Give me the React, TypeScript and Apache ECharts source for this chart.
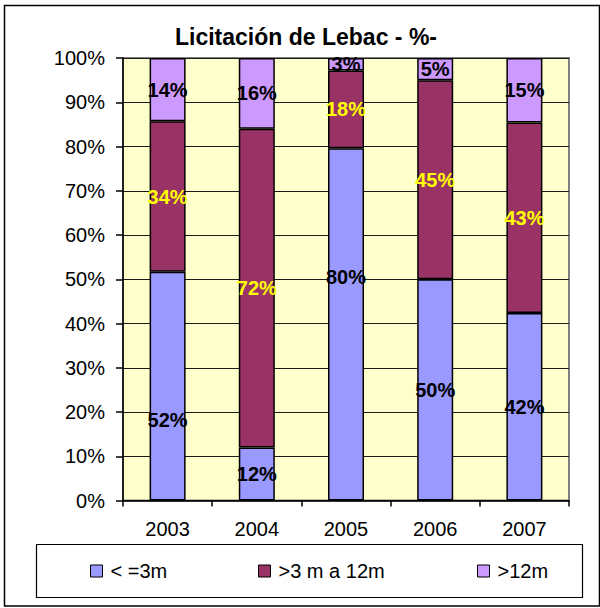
import React, { useEffect, useRef } from "react";
import * as echarts from "echarts";

const categories = ["2003", "2004", "2005", "2006", "2007"];
const seriesNames = ["< =3m", ">3 m a 12m", ">12m"];
const shortTerm = [51.7, 12.0, 79.6, 50.0, 42.4];
const midTerm = [34.0, 72.0, 17.6, 45.0, 43.0];
const longTerm = [14.3, 16.0, 2.8, 5.0, 14.6];
const yTicks = [0, 10, 20, 30, 40, 50, 60, 70, 80, 90, 100];

const FONT = "'Liberation Sans', Arial, sans-serif";
const colors = ["#9999FF", "#993366", "#CC99FF"];
const labelColors = ["#000000", "#FFFF00", "#000000"];
// label nudges (pixels) for the first series, copied from the reference layout
const firstLabelShift = [34, 0, -47, 0, 0];

export default function App() {
  const ref = useRef<HTMLDivElement>(null);
  useEffect(() => {
    if (!ref.current) return;
    const chart = echarts.init(ref.current, undefined, { renderer: "svg" });
    const all = [shortTerm, midTerm, longTerm];
    const series = all.map((vals, si) => ({
      name: seriesNames[si],
      type: "bar",
      stack: "total",
      barWidth: 36,
      itemStyle: { color: colors[si], borderColor: "#000", borderWidth: 1.5 },
      label: {
        show: true,
        position: "inside",
        fontFamily: FONT,
        fontSize: 20,
        fontWeight: "bold",
        color: labelColors[si],
        formatter: (p: any) => Math.round(p.value) + "%",
      },
      data: vals.map((v, i) =>
        si === 0 && firstLabelShift[i] !== 0
          ? { value: v, label: { offset: [0, firstLabelShift[i]] } }
          : v
      ),
    }));
    const legendLefts = [85, 253, 472];
    chart.setOption({
      animation: false,
      backgroundColor: "#ffffff",
      grid: {
        left: 123,
        top: 58,
        width: 446,
        height: 442.5,
        show: true,
        backgroundColor: "#FFFFCC",
        borderColor: "#808080",
        borderWidth: 2,
      },
      xAxis: {
        type: "category",
        data: categories,
        axisLine: { lineStyle: { color: "#000", width: 1.5 } },
        axisTick: { show: true, length: 6, lineStyle: { color: "#000", width: 1.5 } },
        axisLabel: { fontFamily: FONT, fontSize: 20, color: "#000", margin: 18 },
      },
      yAxis: {
        type: "value",
        min: yTicks[0],
        max: yTicks[yTicks.length - 1],
        interval: 10,
        axisLine: { show: true, lineStyle: { color: "#000", width: 1.5 } },
        axisTick: { show: true, length: 7, lineStyle: { color: "#000", width: 1.5 } },
        axisLabel: {
          fontFamily: FONT,
          fontSize: 20,
          color: "#000",
          margin: 18,
          formatter: "{value}%",
        },
        splitLine: { show: true, lineStyle: { color: "#1a1a1a", width: 1 } },
      },
      legend: seriesNames.map((n, i) => ({
        data: [n],
        left: legendLefts[i],
        top: 556,
        itemWidth: 12,
        itemHeight: 12,
        icon: "rect",
        selectedMode: false,
        itemStyle: { borderColor: "#000", borderWidth: 1 },
        textStyle: {
          fontFamily: FONT,
          fontSize: 20,
          color: "#000",
          padding: [0, 0, 0, 3],
        },
      })),
      graphic: [
        {
          type: "rect",
          z: -10,
          shape: { x: 4.5, y: 5.5, width: 595, height: 600.5 },
          style: { fill: "#ffffff", stroke: "#000", lineWidth: 1.5 },
        },
        {
          type: "rect",
          z: -5,
          shape: { x: 36.5, y: 544.5, width: 546, height: 53 },
          style: { fill: "#ffffff", stroke: "#000", lineWidth: 1.2 },
        },
        {
          type: "text",
          x: 306,
          y: 37,
          style: {
            text: "Licitación de Lebac - %-",
            fontFamily: FONT,
            fontSize: 23,
            fontWeight: "bold",
            fill: "#000",
            textAlign: "center",
            textVerticalAlign: "middle",
          },
        },
      ],
      series,
    });
    return () => chart.dispose();
  }, []);
  return (
    <div
      ref={ref}
      style={{ position: "fixed", left: 0, top: 0, width: 600, height: 608 }}
    />
  );
}
